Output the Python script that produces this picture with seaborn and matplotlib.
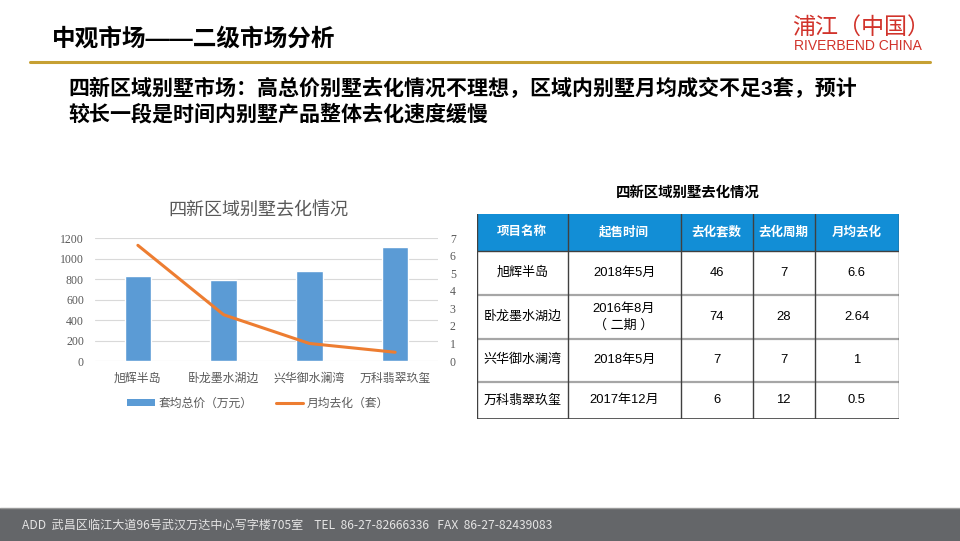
import numpy as np
import pandas as pd
import matplotlib
matplotlib.use("Agg")
import matplotlib.pyplot as plt
from matplotlib.patches import Rectangle, Patch
from matplotlib.lines import Line2D
import seaborn as sns

# ---------------- data ----------------
categories = ["旭辉半岛", "卧龙墨水湖边", "兴华御水澜湾", "万科翡翠玖玺"]
avg_price = [830, 790, 880, 1112]          # 套均总价（万元）
monthly_rate = [6.6, 2.64, 1, 0.5]          # 月均去化（套）
left_ticks = [0, 200, 400, 600, 800, 1000, 1200]
right_ticks = [0, 1, 2, 3, 4, 5, 6, 7]

table_header = ["项目名称", "起售时间", "去化套数", "去化周期", "月均去化"]
start_time = ["2018年5月", "2016年8月\n（ 二期 ）", "2018年5月", "2017年12月"]
sold_units = ["46", "74", "7", "6"]
sale_period = ["7", "28", "7", "12"]
rate_text = ["6.6", "2.64", "1", "0.5"]

page_title = "中观市场——二级市场分析"
subtitle_1 = "四新区域别墅市场：高总价别墅去化情况不理想，区域内别墅月均成交不足3套，预计"
subtitle_2 = "较长一段是时间内别墅产品整体去化速度缓慢"
chart_title = "四新区域别墅去化情况"
legend_labels = ["套均总价（万元）", "月均去化（套）"]
footer = "ADD  武昌区临江大道96号武汉万达中心写字楼705室    TEL  86-27-82666336   FAX  86-27-82439083"

# ---------------- style ----------------
sns.set_style("white")
plt.rcParams["font.family"] = ["Noto Sans CJK SC", "DejaVu Sans"]
SANS = ["Liberation Sans", "Noto Sans CJK SC"]

W, H = 960, 541
fig = plt.figure(figsize=(W / 100, H / 100), dpi=100)
fig.patch.set_facecolor("white")


def fx(x):
    return x / W


def fy(y):
    return 1 - y / H


# ---------------- page header ----------------
fig.text(fx(52), fy(39), page_title, fontsize=17, fontweight="bold",
         family=SANS, color="black", ha="left", va="center")
fig.add_artist(Line2D([fx(30), fx(930)], [fy(61.5), fy(61.5)],
                      color="#C6A033", lw=2.2, transform=fig.transFigure))
fig.text(fx(68), fy(88), subtitle_1, fontsize=15.1, fontweight="bold",
         family=SANS, color="black", ha="left", va="center")
fig.text(fx(68), fy(114), subtitle_2, fontsize=15.1, fontweight="bold",
         family=SANS, color="black", ha="left", va="center")

# logo
fig.text(fx(792), fy(27.5), "浦江（中国）", fontsize=16.6, color="#D1332B",
         ha="left", va="center")
fig.text(fx(858), fy(46.5), "RIVERBEND CHINA", fontsize=10, color="#D1332B",
         family=["Liberation Sans"], ha="center", va="center")

# ---------------- chart ----------------
df = pd.DataFrame({"项目": categories, "套均总价": avg_price, "月均去化": monthly_rate})

ax = fig.add_axes([fx(95), fy(361), fx(438) - fx(95), fy(238.3) - fy(361)])
sns.barplot(data=df, x="项目", y="套均总价", ax=ax, color="#5B9BD5",
            saturation=1, width=0.31, errorbar=None)
ax2 = ax.twinx()
sns.pointplot(data=df, x="项目", y="月均去化", ax=ax2, color="#ED7D31",
              errorbar=None, linewidth=2.2)
for ln in ax2.lines:
    ln.set_marker("")
    ln.set_solid_capstyle("round")
for coll in list(ax2.collections):
    coll.remove()

ax.set_xlim(-0.5, 3.5)
ax.set_ylim(0, 1200)
ax2.set_ylim(0, 7)
ax.set_yticks(left_ticks, labels=[str(v) for v in left_ticks],
              family=["Liberation Serif"], fontsize=8.5, color="#595959")
ax2.set_yticks(right_ticks, labels=[str(v) for v in right_ticks],
               family=["Liberation Serif"], fontsize=8.5, color="#595959")
ax.set_xlabel("")
ax.set_ylabel("")
ax2.set_ylabel("")
ax2.set_xlabel("")
ax.tick_params(axis="y", length=0, pad=8)
ax2.tick_params(axis="y", length=0, pad=8.5)
ax.tick_params(axis="x", length=0, pad=8, labelsize=8.6, labelcolor="#595959")
ax.yaxis.grid(True, color="#D9D9D9", lw=0.8)
ax.xaxis.grid(False)
ax.set_axisbelow(True)
for a in (ax, ax2):
    for s in a.spines.values():
        s.set_visible(False)
ax.set_zorder(1)
ax2.set_zorder(2)

fig.text(fx(258), fy(211), chart_title, fontsize=13, color="#595959",
         ha="center", va="center")

handles = [Patch(facecolor="#5B9BD5", edgecolor="none"),
           Line2D([], [], color="#ED7D31", lw=2.2)]
fig.legend(handles, legend_labels, loc="center",
           bbox_to_anchor=(fx(258), fy(403)), ncol=2, frameon=False,
           fontsize=8.5, labelcolor="#595959", handlelength=2.3,
           handleheight=0.55, columnspacing=2.0, handletextpad=0.3)

# ---------------- table ----------------
fig.text(fx(688), fy(193), chart_title, fontsize=10.4, fontweight="bold",
         family=SANS, color="black", ha="center", va="center")

col_edges = [477, 567.5, 680.5, 752.5, 814.5, 899]
row_edges = [214, 250.5, 295, 339, 381.5, 419]
tax = fig.add_axes([fx(477), fy(419), fx(899) - fx(477), fy(214) - fy(419)])
tax.set_xlim(477, 899)
tax.set_ylim(419, 214)
tax.axis("off")

tax.add_patch(Rectangle((col_edges[0], row_edges[0]), col_edges[-1] - col_edges[0],
                        row_edges[1] - row_edges[0], facecolor="#128ED6",
                        edgecolor="none", zorder=1))
for y in row_edges[2:-1]:
    tax.plot([col_edges[0], col_edges[-1]], [y, y], color="#A6A6A6", lw=1.6, zorder=2)
tax.plot([col_edges[0], col_edges[-1]], [row_edges[1], row_edges[1]],
         color="#404040", lw=1.0, zorder=3)
tax.plot([col_edges[0], col_edges[-1]], [row_edges[-1], row_edges[-1]],
         color="#404040", lw=1.2, zorder=3)
for x in col_edges:
    tax.plot([x, x], [row_edges[0], row_edges[-1]], color="#404040", lw=1.0, zorder=3)

centers_x = [(col_edges[i] + col_edges[i + 1]) / 2 for i in range(5)]
centers_y = [(row_edges[i] + row_edges[i + 1]) / 2 for i in range(5)]
for cx, txt in zip(centers_x, table_header):
    tax.text(cx, centers_y[0], txt, fontsize=9, fontweight="bold", color="white",
             family=SANS, ha="center", va="center", zorder=4)
rows = list(zip(categories, start_time, sold_units, sale_period, rate_text))
for r, row in enumerate(rows):
    for c, txt in enumerate(row):
        tax.text(centers_x[c], centers_y[r + 1], txt, fontsize=9.4, color="black",
                 family=SANS, ha="center", va="center", zorder=4,
                 linespacing=1.45)

# ---------------- footer ----------------
fig.add_artist(Rectangle((0, 0), 1, fy(508), facecolor="#646669",
                         edgecolor="none", transform=fig.transFigure, zorder=0))
fig.add_artist(Line2D([0, 1], [fy(508), fy(508)], color="#9A9A9A", lw=1,
                      transform=fig.transFigure))
fig.text(fx(22), fy(525), footer, fontsize=8.7, color="#E4E4E4",
         ha="left", va="center")

fig.savefig("out.png", dpi=100)
